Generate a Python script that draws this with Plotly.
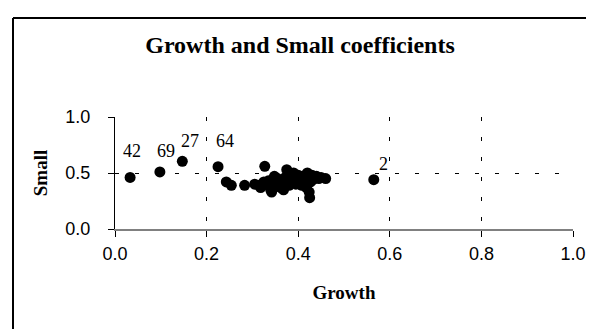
import plotly.graph_objects as go

# Data (Growth, Small coefficients)
growth = [0.033, 0.098, 0.147, 0.225, 0.565,
          0.243, 0.254, 0.283,
          0.305, 0.315, 0.318, 0.325, 0.327, 0.33, 0.335, 0.338, 0.34, 0.342,
          0.345, 0.348, 0.35, 0.352, 0.355, 0.36, 0.362, 0.365, 0.368, 0.37,
          0.372, 0.375, 0.378, 0.38, 0.382, 0.385, 0.388, 0.39, 0.392, 0.395,
          0.398, 0.40, 0.403, 0.405, 0.408, 0.41, 0.412, 0.415, 0.418, 0.42,
          0.422, 0.424, 0.425, 0.427, 0.43, 0.432, 0.435, 0.44, 0.445, 0.45, 0.46]
small = [0.46, 0.51, 0.604, 0.556, 0.44,
         0.42, 0.39, 0.39,
         0.40, 0.39, 0.37, 0.42, 0.56, 0.40, 0.43, 0.38, 0.35, 0.33,
         0.44, 0.47, 0.41, 0.39, 0.45, 0.42, 0.37, 0.40, 0.35, 0.44,
         0.46, 0.53, 0.41, 0.39, 0.48, 0.44, 0.42, 0.50, 0.46, 0.40,
         0.44, 0.48, 0.42, 0.45, 0.39, 0.47, 0.43, 0.41, 0.37, 0.50,
         0.45, 0.33, 0.28, 0.42, 0.48, 0.44, 0.46, 0.47, 0.45, 0.46, 0.45]

label_text = ["42", "69", "27", "64", "2"]
label_x = growth[:5]
label_y = small[:5]
label_xshift = [2, 6, 8, 7, 10]
label_yshift = [14, 9, 8, 14, 4]

x_ticks = [0.0, 0.2, 0.4, 0.6, 0.8, 1.0]
y_ticks = [0.0, 0.5, 1.0]

SERIF = "Liberation Serif, Times New Roman, serif"
SANS = "Liberation Sans, Arial, sans-serif"

fig = go.Figure()
fig.add_trace(go.Scatter(
    x=growth, y=small, mode="markers",
    marker=dict(size=11, color="black", line=dict(width=0)),
    showlegend=False, hoverinfo="x+y"))

annotations = []
for t, x, y, dx, dy in zip(label_text, label_x, label_y, label_xshift, label_yshift):
    annotations.append(dict(x=x, y=y, xref="x", yref="y", text=t, showarrow=False,
                            xanchor="center", yanchor="bottom", xshift=dx, yshift=dy,
                            font=dict(family=SERIF, size=18, color="black")))

W, H = 594, 329
L, R, T, B = 107, 29, 109, 108
pw, ph = W - L - R, H - T - B

def px_x(px):
    return (px - L) / pw

def px_y(py):
    return (H - B - py) / ph

shapes = [
    dict(type="line", xref="paper", yref="paper", x0=px_x(5), x1=px_x(5),
         y0=px_y(10), y1=px_y(340), line=dict(color="black", width=2)),
    dict(type="line", xref="paper", yref="paper", x0=px_x(5), x1=px_x(600),
         y0=px_y(10), y1=px_y(10), line=dict(color="black", width=2)),
]

fig.update_layout(
    width=W, height=H,
    margin=dict(l=L, r=R, t=T, b=B, autoexpand=False),
    paper_bgcolor="white", plot_bgcolor="white",
    title=dict(text="<b>Growth and Small coefficients</b>",
               x=292 / W, xanchor="center", y=1 - 37 / H, yanchor="middle",
               font=dict(family=SERIF, size=24, color="black")),
    annotations=annotations,
    shapes=shapes,
    xaxis=dict(range=[0, 1], tickvals=x_ticks, tickformat=".1f",
               showgrid=True, gridcolor="black", gridwidth=1, griddash="4px,16px",
               zeroline=False, showline=True, linecolor="#808080", linewidth=1.5,
               ticks="outside", ticklen=6, tickcolor="black", ticklabelstandoff=2,
               tickfont=dict(family=SANS, size=18, color="black"),
               title=dict(text="<b>Growth</b>", standoff=22,
                          font=dict(family=SERIF, size=19, color="black")),
               fixedrange=True),
    yaxis=dict(range=[0, 1], tickvals=y_ticks, tickformat=".1f",
               showgrid=True, gridcolor="black", gridwidth=1, griddash="4px,16px",
               zeroline=False, showline=True, linecolor="black", linewidth=1,
               ticks="outside", ticklen=6, tickcolor="black", ticklabelstandoff=14,
               tickfont=dict(family=SANS, size=18, color="black"),
               title=dict(text="<b>Small</b>", standoff=12,
                          font=dict(family=SERIF, size=19, color="black")),
               fixedrange=True),
)

fig.write_html("out.html")
